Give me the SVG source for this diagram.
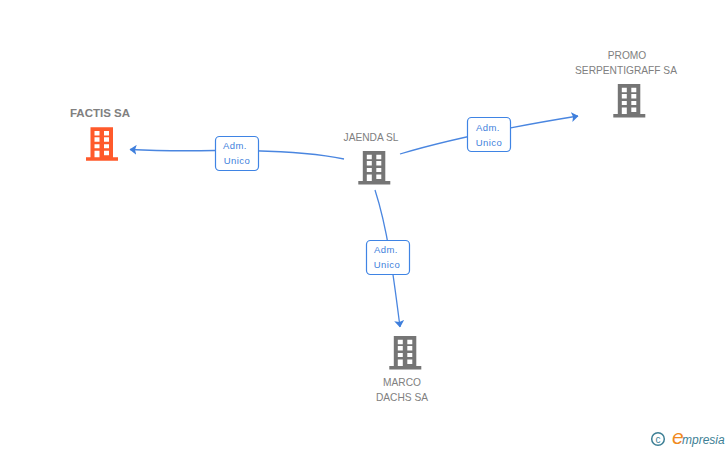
<svg xmlns="http://www.w3.org/2000/svg" width="728" height="450" viewBox="0 0 728 450">
<style>
text{font-family:"Liberation Sans",Arial,sans-serif}
.lab{font-size:10.200px;fill:#808080;text-anchor:middle}
.edge{fill:none;stroke:#4a86e0;stroke-width:1.3}
.box{fill:#fff;stroke:#3f84e4;stroke-width:1.2}
.elab{font-size:9.5px;fill:#3f7fdc;text-anchor:middle;letter-spacing:.4px}
</style>
<defs>
<marker id="arr" viewBox="0 0 7 10" refX="6.500" refY="5" markerWidth="7" markerHeight="10" markerUnits="userSpaceOnUse" orient="auto"><path d="M0 0L7 5L0 10L1.500 5Z" fill="#3f7fdc"/></marker>
<g id="bld">
<path fill-rule="evenodd" d="M4.500 0H27V30H32V33.500H0V30H4.500ZM8.500 3.700V8.300H13.500V3.700ZM18 3.700V8.300H23V3.700ZM8.500 10V14.500H13.500V10ZM18 10V14.500H23V10ZM8.500 17V21H13.500V17ZM18 17V21H23V17ZM8.500 23.500V30H13.500V23.500ZM18 23.500V28H23V23.500Z"/>
</g>
</defs>
<rect width="728" height="450" fill="#fff"/>
<g id="connectors">
<path class="edge" marker-end="url(#arr)" d="M344 159C310 152 270 150 215 150.500C185 151 160 151 130 149.500"/>
<path class="edge" marker-end="url(#arr)" d="M400 154C450 139 510 127 578 116"/>
<path class="edge" marker-end="url(#arr)" d="M375 190C388 230 394 280 400 327"/>
</g>
<g id="edge-label-1"><rect class="box" x="215.500" y="136.500" width="43" height="34" rx="4"/><text class="elab" x="235" y="149">Adm.</text><text class="elab" x="237" y="164">Unico</text></g>
<g id="edge-label-2"><rect class="box" x="467.500" y="117.500" width="43" height="34" rx="4"/><text class="elab" x="488" y="131">Adm.</text><text class="elab" x="489" y="146">Unico</text></g>
<g id="edge-label-3"><rect class="box" x="366.500" y="240.500" width="43" height="34" rx="4"/><text class="elab" x="386" y="253">Adm.</text><text class="elab" x="387" y="268">Unico</text></g>
<g id="factis"><text x="100" y="117" text-anchor="middle" font-size="11.500" font-weight="bold" fill="#808080">FACTIS SA</text><use href="#bld" x="86" y="127.300" fill="#ff5a2b"/></g>
<g id="jaenda"><text class="lab" x="371" y="141">JAENDA SL</text><use href="#bld" x="358.300" y="151" fill="#757575"/></g>
<g id="promo"><text class="lab" x="627" y="59">PROMO</text><text class="lab" x="626" y="74">SERPENTIGRAFF SA</text><use href="#bld" x="613.300" y="84" fill="#757575"/></g>
<g id="marco"><use href="#bld" x="389.300" y="336" fill="#757575"/><text class="lab" x="402" y="386">MARCO</text><text class="lab" x="402" y="401">DACHS SA</text></g>
<g id="brand"><circle cx="658" cy="439" r="6.300" fill="none" stroke="#3d7f95" stroke-width="1.500"/><text x="658" y="442.500" text-anchor="middle" font-size="10" fill="#3d7f95">c</text><text x="672" y="444" font-family="Liberation Serif,serif" font-style="italic" font-size="21" fill="#f08a1e">e</text><text x="682" y="444" font-size="12" font-style="italic" fill="#3d7f95">mpresia</text></g>
</svg>
